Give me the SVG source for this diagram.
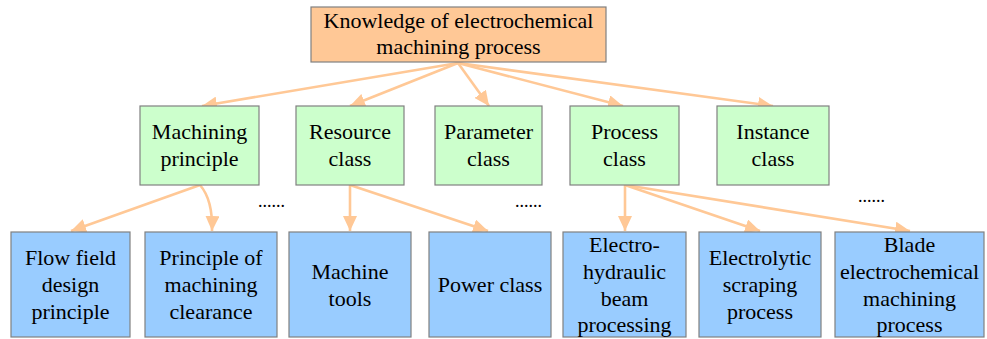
<svg xmlns="http://www.w3.org/2000/svg" width="987" height="339" viewBox="0 0 987 339" font-family="Liberation Serif, Times New Roman, serif">
<style>
.box{stroke:#808080;stroke-width:1.2}
.top{fill:#FFC896}
.grn{fill:#CCFFCC}
.blu{fill:#99CCFF}
text{font-size:22px;fill:#000;text-anchor:middle}
.dots{font-size:18px;text-anchor:start}
.con{fill:none;stroke:#FFC896;stroke-width:2.6;marker-end:url(#ah)}
</style>
<defs>
<marker id="ah" markerUnits="userSpaceOnUse" markerWidth="16" markerHeight="14" refX="15" refY="7" orient="auto">
<path d="M0,0 L15,7 L0,14 z" fill="#FFC896"/>
</marker>
</defs>
<rect width="987" height="339" fill="#fff"/>
<g id="connectors">
<path class="con" d="M458,63 L202,106"/>
<path class="con" d="M458,63 L350,106"/>
<path class="con" d="M458,63 L489,106"/>
<path class="con" d="M458,63 L623,106"/>
<path class="con" d="M458,63 L773,106"/>
<path class="con" d="M200,185 L71,231"/>
<path class="con" d="M200,185 Q213,200 212,231"/>
<path class="con" d="M350,185 L350,231"/>
<path class="con" d="M350,185 L488,231"/>
<path class="con" d="M625,185 L625,231"/>
<path class="con" d="M625,185 L760,231"/>
<path class="con" d="M625,185 L910,231"/>
</g>
<g id="root"><rect class="box top" x="311" y="7" width="295" height="55"/><text x="458.5" y="28">Knowledge of electrochemical</text><text x="458.5" y="54">machining process</text></g>
<g id="machining-principle"><rect class="box grn" x="140" y="106" width="119" height="79"/><text x="199.5" y="139">Machining</text><text x="199.5" y="166">principle</text></g>
<g id="resource-class"><rect class="box grn" x="296" y="106" width="108" height="79"/><text x="350" y="139">Resource</text><text x="350" y="166">class</text></g>
<g id="parameter-class"><rect class="box grn" x="435" y="106" width="107" height="79"/><text x="488.5" y="139">Parameter</text><text x="488.5" y="166">class</text></g>
<g id="process-class"><rect class="box grn" x="570" y="106" width="109" height="79"/><text x="624.5" y="139">Process</text><text x="624.5" y="166">class</text></g>
<g id="instance-class"><rect class="box grn" x="717" y="106" width="112" height="79"/><text x="773" y="139">Instance</text><text x="773" y="166">class</text></g>
<g id="flow-field"><rect class="box blu" x="11" y="232" width="119" height="105"/><text x="70.5" y="265">Flow field</text><text x="70.5" y="292">design</text><text x="70.5" y="319">principle</text></g>
<g id="clearance"><rect class="box blu" x="145" y="232" width="132" height="105"/><text x="211" y="265">Principle of</text><text x="211" y="292">machining</text><text x="211" y="319">clearance</text></g>
<g id="machine-tools"><rect class="box blu" x="289" y="232" width="122" height="105"/><text x="350" y="279">Machine</text><text x="350" y="306">tools</text></g>
<g id="power-class"><rect class="box blu" x="429" y="232" width="122" height="105"/><text x="490" y="292">Power class</text></g>
<g id="electro-hydraulic"><rect class="box blu" x="563" y="232" width="123" height="105"/><text x="624.5" y="252">Electro-</text><text x="624.5" y="279">hydraulic</text><text x="624.5" y="306">beam</text><text x="624.5" y="332">processing</text></g>
<g id="electrolytic"><rect class="box blu" x="699" y="232" width="122" height="105"/><text x="760" y="265">Electrolytic</text><text x="760" y="292">scraping</text><text x="760" y="319">process</text></g>
<g id="blade"><rect class="box blu" x="835" y="232" width="149" height="105"/><text x="909.5" y="252">Blade</text><text x="909.5" y="279">electrochemical</text><text x="909.5" y="306">machining</text><text x="909.5" y="332">process</text></g>
<text class="dots" x="258" y="207">......</text>
<text class="dots" x="515" y="207">......</text>
<text class="dots" x="858" y="202">......</text>
</svg>
